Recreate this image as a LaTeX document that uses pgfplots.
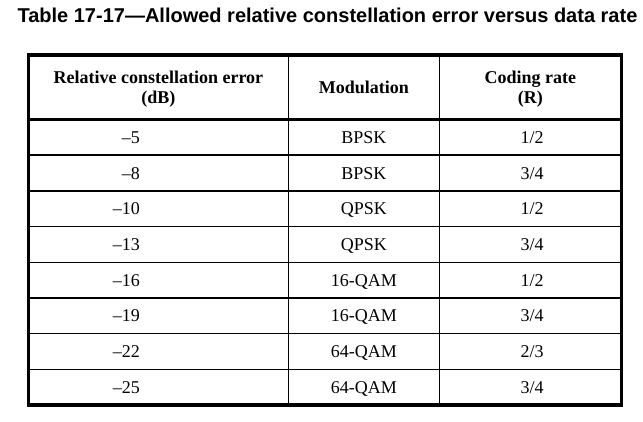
\documentclass[border=0pt]{standalone}
\usepackage{fontspec}
\setmainfont{Liberation Serif}
\newfontfamily\titlefont{Liberation Sans}
\usepackage{pgfplots}
\usepackage{pgfplotstable}
\pgfplotsset{compat=1.18}

% column 1: relative constellation error (dB), right aligned
\pgfplotstableread[col sep=comma]{
x,y,label
140,143.4,–5
140,179.1,–8
140,214.8,–10
140,250.5,–13
140,286.2,–16
140,321.9,–19
140,357.6,–22
140,393.3,–25
}\colone

% column 2: modulation
\pgfplotstableread[col sep=comma]{
x,y,label
363.8,143.4,BPSK
363.8,179.1,BPSK
363.8,214.8,QPSK
363.8,250.5,QPSK
363.8,286.2,16-QAM
363.8,321.9,16-QAM
363.8,357.6,64-QAM
363.8,393.3,64-QAM
}\coltwo

% column 3: coding rate
\pgfplotstableread[col sep=comma]{
x,y,label
532,143.4,1/2
532,179.1,3/4
532,214.8,1/2
532,250.5,3/4
532,286.2,1/2
532,321.9,3/4
532,357.6,2/3
532,393.3,3/4
}\colthree

% header lines
\pgfplotstableread[col sep=comma]{
x,y,label
158.4,83,Relative constellation error
158.4,103,(dB)
363.8,93,Modulation
530.4,83,Coding rate
530.4,103,(R)
}\header

\begin{document}
\begin{tikzpicture}
\begin{axis}[
  width=643pt, height=421pt, scale only axis,
  xmin=0, xmax=643, ymin=0, ymax=421, y dir=reverse,
  hide axis, clip=false,
]
% title
\addplot[draw=none, nodes near coords, point meta=explicit symbolic,
  nodes near coords style={anchor=base, inner sep=0pt, font=\titlefont\bfseries\fontsize{20}{22}\selectfont}]
  coordinates {(327.5,22) [Table 17-17—Allowed relative constellation error versus data rate]};

% table rules
\addplot[black, line width=3.5pt, line cap=rect, line join=miter] coordinates {(28.5,55) (621.5,55) (621.5,405) (28.5,405) (28.5,55)};
\addplot[black, line width=3pt] coordinates {(28.5,119.5) (621.5,119.5)};
\addplot[black, line width=1.5pt] coordinates {(288.3,55) (288.3,405)};
\addplot[black, line width=1.5pt] coordinates {(439.3,55) (439.3,405)};
\addplot[black, line width=1.5pt] coordinates {(28.5,155.2) (621.5,155.2)};
\addplot[black, line width=1.5pt] coordinates {(28.5,190.9) (621.5,190.9)};
\addplot[black, line width=1.5pt] coordinates {(28.5,226.6) (621.5,226.6)};
\addplot[black, line width=1.5pt] coordinates {(28.5,262.3) (621.5,262.3)};
\addplot[black, line width=1.5pt] coordinates {(28.5,298.0) (621.5,298.0)};
\addplot[black, line width=1.5pt] coordinates {(28.5,333.7) (621.5,333.7)};
\addplot[black, line width=1.5pt] coordinates {(28.5,369.4) (621.5,369.4)};

% header text
\addplot[draw=none, nodes near coords, point meta=explicit symbolic,
  nodes near coords style={anchor=base, inner sep=0pt, font=\bfseries\fontsize{18}{20}\selectfont}]
  table[x=x, y=y, meta=label] {\header};

% body text
\addplot[draw=none, nodes near coords, point meta=explicit symbolic,
  nodes near coords style={anchor=base east, inner sep=0pt, font=\fontsize{18}{20}\selectfont}]
  table[x=x, y=y, meta=label] {\colone};
\addplot[draw=none, nodes near coords, point meta=explicit symbolic,
  nodes near coords style={anchor=base, inner sep=0pt, font=\fontsize{18}{20}\selectfont}]
  table[x=x, y=y, meta=label] {\coltwo};
\addplot[draw=none, nodes near coords, point meta=explicit symbolic,
  nodes near coords style={anchor=base, inner sep=0pt, font=\fontsize{18}{20}\selectfont}]
  table[x=x, y=y, meta=label] {\colthree};
\end{axis}
\pgfresetboundingbox
\path (current axis.south west) rectangle (current axis.north east);
\end{tikzpicture}
\end{document}
